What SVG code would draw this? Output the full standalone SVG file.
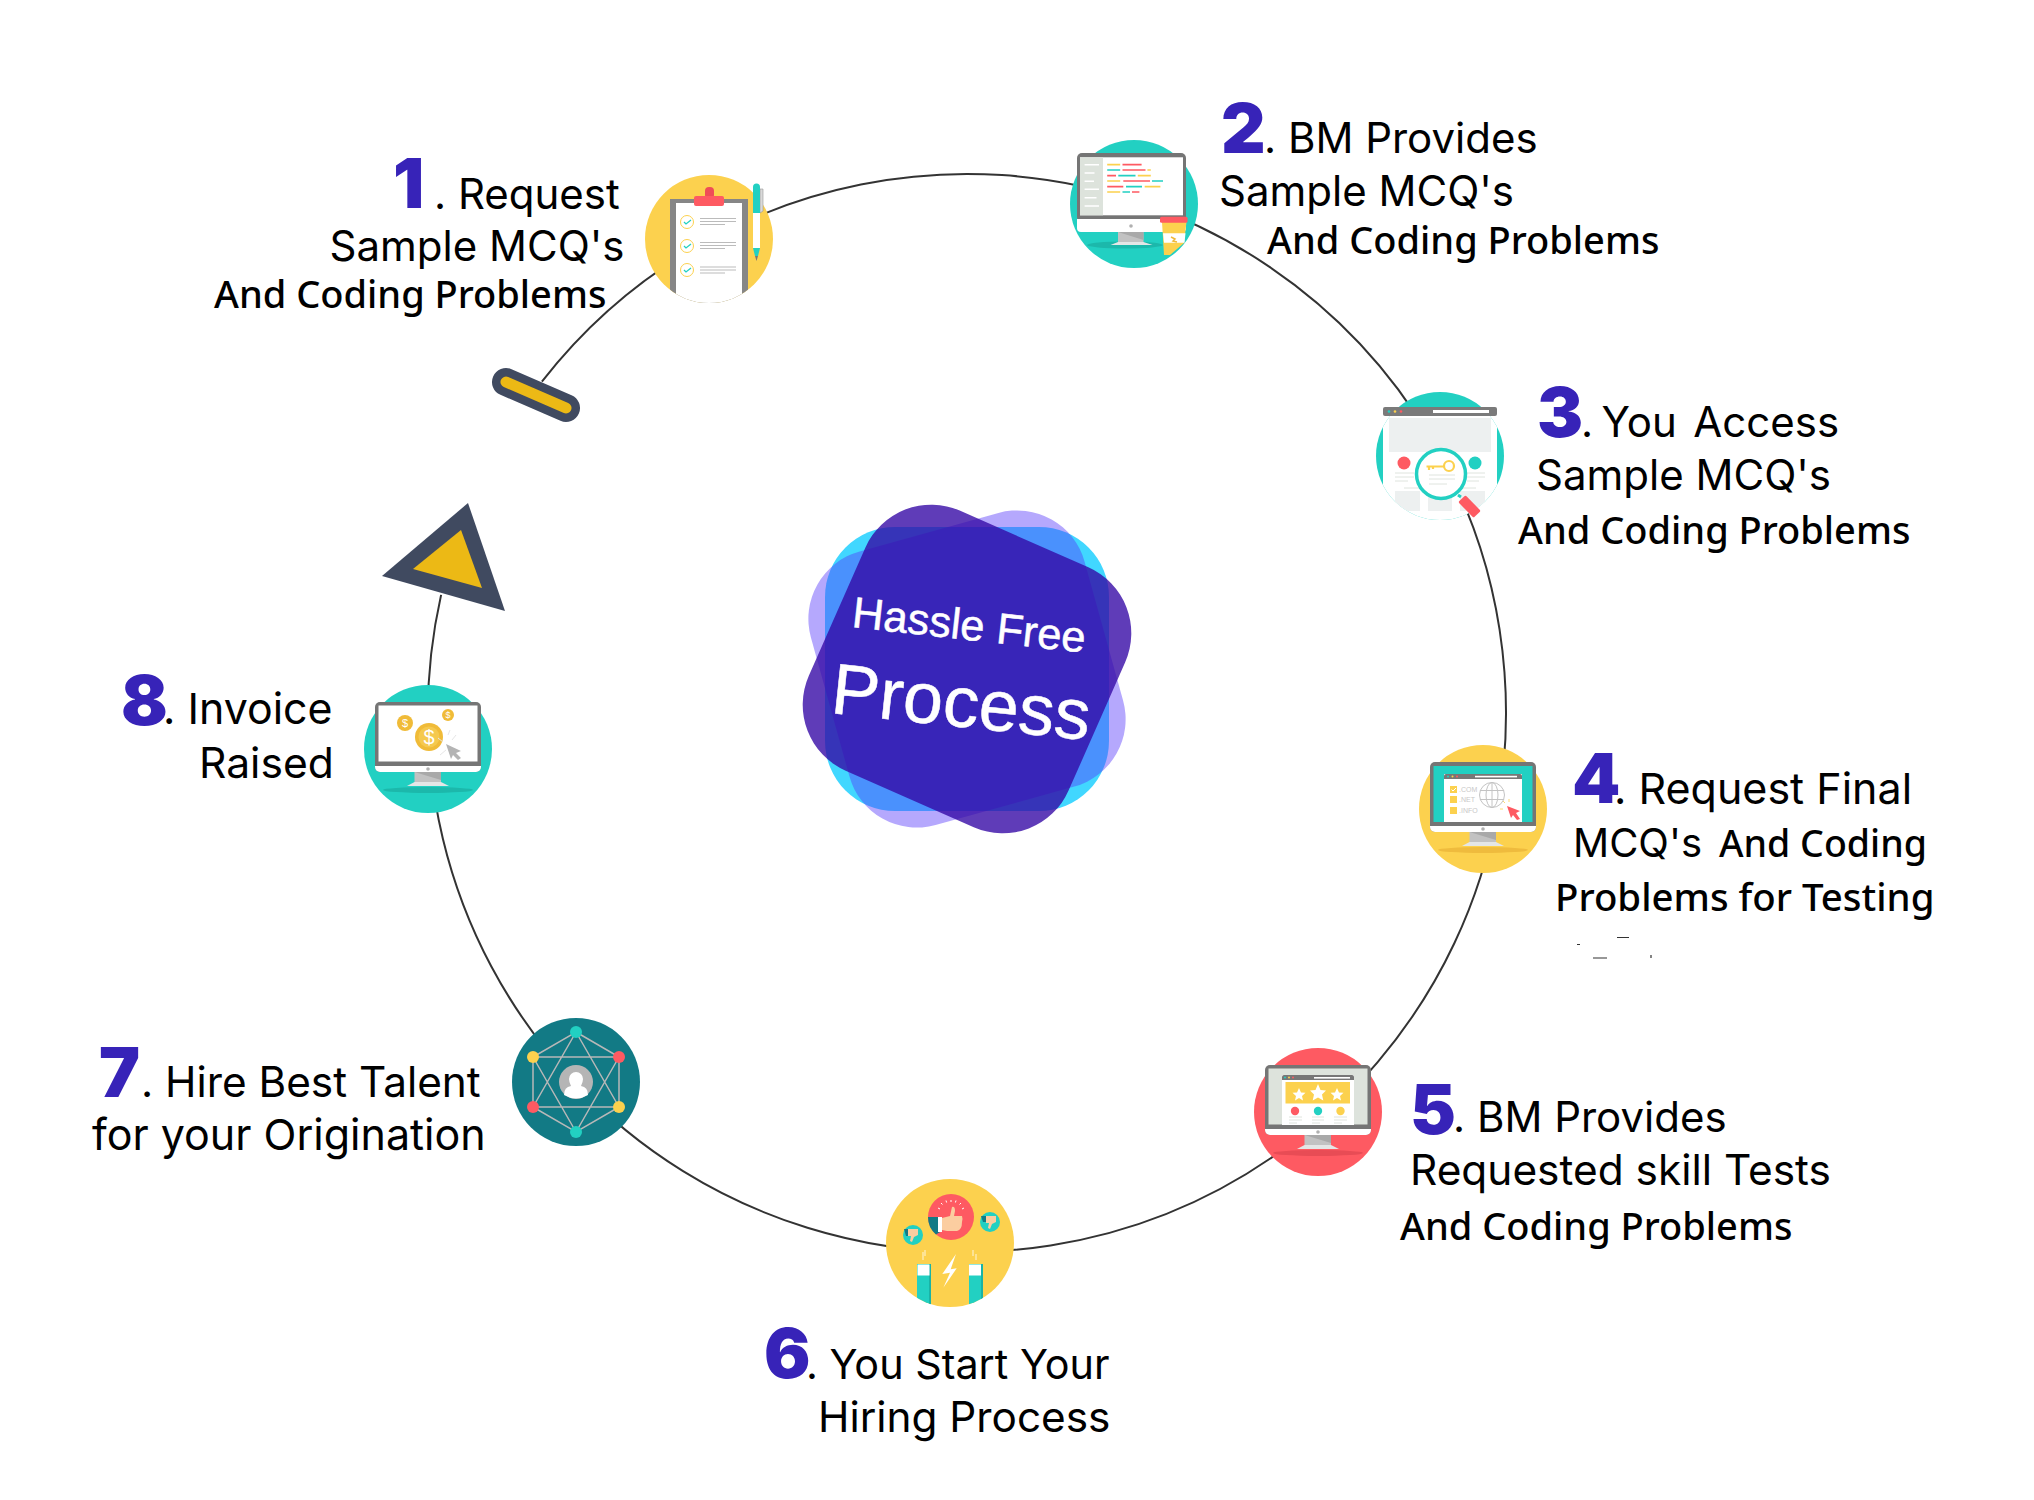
<svg xmlns="http://www.w3.org/2000/svg" xmlns:xlink="http://www.w3.org/1999/xlink" width="2034" height="1500" viewBox="0 0 2034 1500">
<style>
.t{font-family:"Inter","Liberation Sans",sans-serif;font-size:42px;fill:#000}
.n{font-family:"Noto Sans","Liberation Sans",sans-serif;font-size:38px;font-weight:500;fill:#000}
.d{font-family:"Inter","Liberation Sans",sans-serif;font-size:69px;font-weight:900;fill:#3723b8}
.tiny{font-family:"Liberation Sans",sans-serif;font-size:7px;fill:#c8c8c8}
.ctr{font-family:"Liberation Sans",Arial,sans-serif;fill:#fff;stroke:#fff;stroke-width:.5}
.y{fill:#fcd14e}.g{fill:#22d0c2}.r{fill:#fe5a62}.w{fill:#fff}.f{fill:#757575}
.dl{stroke:#bbb;stroke-width:1.2;fill:none}
.cl{stroke:#dfe4de;stroke-width:1;fill:none}
.net{stroke:#b8b8b8;stroke-width:1.5;fill:none}
</style>
<defs>
<g id="monitor">
<rect x="-53" y="-47" width="106" height="70" rx="5" class="f"/>
<path d="M-53 17H53V18a5 5 0 0 1-5 5H-48a5 5 0 0 1-5-5Z" class="w"/>
<path d="M-13.500 23H13V33H-13.500Z" fill="#c2c2c2"/>
<path d="M-13.500 23L13 31V23Z" fill="#a9a9a9"/>
<path d="M-13.500 33H13L21 37H-21Z" fill="#e4e6e6"/>
<circle cx="0" cy="20" r="1.800" fill="#b0b0b0"/>
</g>
<clipPath id="c1"><circle cx="709" cy="239" r="64"/></clipPath>
<clipPath id="c3"><circle cx="1440" cy="456" r="64"/></clipPath>
<clipPath id="c6"><circle cx="950" cy="1243" r="64"/></clipPath>
</defs>
<rect width="2034" height="1500" fill="#fff"/>

<g id="connectors">
<path d="M541.900 381.600A539 539 0 1 1 441.100 594.900" fill="none" stroke="#333" stroke-width="2"/>
</g>

<g id="markers">
<path d="M506 382L566 408" stroke="#404a60" stroke-width="28" stroke-linecap="round"/>
<path d="M506 382L566 408" stroke="#ecb915" stroke-width="11" stroke-linecap="round"/>
<polygon points="468,503 382,576 505,611" fill="#404a60"/>
<polygon points="461,530 413,569 482,588" fill="#ecb915"/>
</g>

<g id="center">
<rect x="825" y="527" width="284" height="284" rx="70" fill="#41d7ff"/>
<rect x="825" y="527" width="284" height="284" rx="70" fill="#5739fb" fill-opacity=".44" transform="rotate(-15.500 967 669)"/>
<rect x="825" y="527" width="284" height="284" rx="72" fill="#3407a5" fill-opacity=".79" transform="rotate(23.800 967 669)"/>
<text class="ctr" transform="translate(851 627) rotate(6.300)" font-size="43.500">Hassle Free</text>
<text class="ctr" transform="translate(829.500 713) rotate(6)" font-size="72">Process</text>
</g>

<g id="node1">
<circle cx="709" cy="239" r="64" class="y"/>
<g clip-path="url(#c1)">
<rect x="670" y="199" width="78" height="110" fill="#868686"/>
<rect x="676" y="203" width="66" height="110" class="w"/>
</g>
<rect x="705" y="187" width="9" height="12" rx="4" fill="#ef4d57"/>
<rect x="694" y="196" width="30" height="10" rx="2" class="r"/>
<g fill="#fff" stroke="#fcd14e" stroke-width="1">
<circle cx="687" cy="222" r="6.500"/><circle cx="687" cy="246" r="6.500"/><circle cx="687" cy="270" r="6.500"/>
</g>
<g fill="none" stroke="#22d0c2" stroke-width="1.300">
<path d="M684 222l2 2 5-4"/><path d="M684 246l2 2 5-4"/><path d="M684 270l2 2 5-4"/>
</g>
<path d="M700 218.500H736M700 221.500H736M700 224.500H725M700 242.500H736M700 245.500H736M700 248.500H725M700 267H736M700 270H736M700 273H725" class="dl"/>
<path d="M760 189H763V211L760 213Z" fill="#d9d9d9" stroke="#999" stroke-width=".6"/>
<path d="M753 187a3.500 3.500 0 0 1 7 0V213H753Z" class="g"/>
<rect x="753" y="213" width="7" height="35" class="w"/>
<path d="M753 248H760L758 256H755Z" class="g"/>
<path d="M755 256H758L756.500 261Z" fill="#777"/>
</g>
<text class="d" x="393" y="208">1</text>
<text class="t" x="434" y="208.500">. Request</text>
<text class="t" x="329.500" y="261">Sample MCQ's</text>
<text class="n" x="214" y="308">And Coding Problems</text>

<g id="node2">
<circle cx="1134" cy="204" r="64" class="g"/>
<ellipse cx="1125" cy="245" rx="38" ry="3.500" fill="#1cb8ab"/>
<rect x="1077" y="153" width="109" height="69" rx="5" class="f"/>
<path d="M1077 219H1186V228a4 4 0 0 1-4 4H1081a4 4 0 0 1-4-4Z" class="w"/>
<rect x="1080" y="157.300" width="103" height="58" class="w"/>
<rect x="1080" y="157.300" width="23" height="58" fill="#dde3dc"/>
<path d="M1084.600 164.700H1099M1084.600 173H1094.500M1084.600 181.300H1094M1084.600 189.300H1099M1084.600 197.700H1096.500M1084.600 206H1099" stroke="#fff" stroke-width="1.400" fill="none"/>
<g stroke-width="1.700" fill="none">
<path d="M1107.200 164.700H1120.200M1147.400 170H1150.800M1137.800 175.700H1150.800M1107.200 181H1120.200M1144.700 186.700H1160.400M1107.200 192H1120.200" stroke="#fcd14e"/>
<path d="M1122.500 164.700H1141.600M1122.500 170H1145.500M1107.200 175.700H1116M1123.300 181H1150M1107.200 186.700H1123.300M1132 192H1139.400" stroke="#fe5a62"/>
<path d="M1107.200 170H1120.200M1118.300 175.700H1135.500M1152 181H1163M1126 186.700H1142M1122.500 192H1130" stroke="#22d0c2"/>
</g>
<path d="M1118 232H1143.500V242H1118Z" fill="#c2c2c2"/>
<path d="M1118 232L1143.500 240V232Z" fill="#a9a9a9"/>
<path d="M1118 242H1143.500L1152.500 245H1110.500Z" fill="#e4e6e6"/>
<circle cx="1131" cy="226" r="1.800" fill="#b0b0b0"/>
<path d="M1162 222H1186.500L1184 243L1170 255H1164Z" class="y"/>
<path d="M1163 233.300H1185.500L1184.500 242.700H1164Z" class="w"/>
<rect x="1160" y="216.700" width="27.500" height="6" rx="1.500" class="r"/>
<path d="M1171 237l4 2-2 2 4 1" stroke="#efb93a" stroke-width="1.500" fill="none"/>
</g>
<text class="d" x="1221" y="153">2</text>
<text class="t" x="1264" y="153">. BM Provides</text>
<text class="t" x="1219" y="206">Sample MCQ's</text>
<text class="n" x="1267" y="254">And Coding Problems</text>

<g id="node3">
<circle cx="1440" cy="456" r="64" class="g"/>
<g clip-path="url(#c3)">
<rect x="1383" y="414" width="114" height="110" class="w"/>
<rect x="1389" y="418" width="102" height="34" fill="#edf0f0"/>
<circle cx="1404" cy="463" r="6.500" class="r"/>
<circle cx="1475" cy="463" r="6.500" class="g"/>
<path d="M1395 473H1414M1395 477H1414M1395 481H1408M1467 473H1485M1467 477H1485M1467 481H1479M1404 488H1476" class="cl"/>
<path d="M1395 491H1420V511H1395ZM1428 491H1452V511H1428ZM1460 491H1485V511H1460Z" fill="#edf0f0"/>
</g>
<rect x="1383" y="407" width="114" height="9" rx="2" fill="#7a7a7a"/>
<rect x="1433" y="410" width="56" height="3" class="w"/>
<circle cx="1389" cy="411.500" r="1.300" class="g"/><circle cx="1395" cy="411.500" r="1.300" class="y"/><circle cx="1401" cy="411.500" r="1.300" class="r"/>
<circle cx="1441" cy="474" r="24.500" fill="#fff" stroke="#22d0c2" stroke-width="3.500"/>
<path d="M1429 475H1455M1429 479H1455M1429 484H1447" stroke="#dfe4de" stroke-width="1" fill="none"/>
<circle cx="1449" cy="466" r="5" fill="none" stroke="#fcd14e" stroke-width="2.200"/>
<path d="M1426.500 466.500H1444M1429 466.500V470M1433 466.500V469" stroke="#fcd14e" stroke-width="2.200" fill="none"/>
<path d="M1458 495L1461 497" stroke="#22d0c2" stroke-width="3"/>
<rect x="1464.500" y="495.500" width="10" height="22" rx="1.500" class="r" transform="rotate(-44 1469.500 506.500)"/>
</g>
<text class="d" x="1537" y="437">3</text>
<text class="t" x="1581" y="437" style="white-space:pre;word-spacing:-3.500px">. You  Access</text>
<text class="t" x="1536" y="490">Sample MCQ's</text>
<text class="n" x="1518" y="544">And Coding Problems</text>

<g id="node4">
<circle cx="1483" cy="809" r="64" class="y"/>
<ellipse cx="1483" cy="850" rx="45" ry="3" fill="#efbb3d"/>
<use href="#monitor" xlink:href="#monitor" x="1483" y="809"/>
<rect x="1433.500" y="766" width="99" height="56" class="g"/>
<rect x="1444" y="774" width="78" height="48" class="w"/>
<path d="M1444 779v-3a2 2 0 0 1 2-2h74a2 2 0 0 1 2 2v3Z" fill="#777"/>
<rect x="1475" y="775.800" width="42" height="1.600" class="w"/>
<circle cx="1448" cy="776.500" r="1" class="g"/><circle cx="1452.500" cy="776.500" r="1" class="y"/><circle cx="1457" cy="776.500" r="1" class="r"/>
<rect x="1450" y="786" width="7" height="7" class="y"/><rect x="1450" y="796" width="7" height="7" class="y"/><rect x="1450" y="807" width="7" height="7" class="y"/>
<path d="M1451.500 789.500l1.500 1.500 3-3" stroke="#fff" stroke-width="1" fill="none"/>
<text class="tiny" x="1459" y="792">.COM</text><text class="tiny" x="1459" y="802">.NET</text><text class="tiny" x="1459" y="813">.INFO</text>
<g fill="none" stroke="#c4c4c4" stroke-width="1"><circle cx="1492" cy="795" r="12.500"/><ellipse cx="1492" cy="795" rx="6" ry="12.500"/><path d="M1492 782.500V807.500M1480 790.500H1504M1480 799.500H1504"/></g>
<path d="M1507 806L1520 811L1516 813L1520 819L1517 820L1513 815L1511 818Z" class="r"/>
<path d="M1505 803l-2-2M1503 809h-3M1509 802v-3" stroke="#fcd14e" stroke-width=".8"/>
</g>
<text class="d" x="1572" y="803">4</text>
<text class="t" x="1614" y="804" style="font-size:43px">. Request Final</text>
<text class="t" x="1573" y="857" style="font-size:40px">MCQ's</text>
<text class="n" x="1719" y="857" style="font-size:37.500px">And Coding</text>
<text class="n" x="1555" y="911" style="font-size:38.400px">Problems for Testing</text>
<path d="M1617 937.500H1629M1577 944.500H1580M1593 958H1607M1651 955V958" stroke="#333" stroke-width="1.200" fill="none"/>

<g id="node5">
<circle cx="1318" cy="1112" r="64" class="r"/>
<ellipse cx="1318" cy="1153" rx="45" ry="3" fill="#e84c55"/>
<use href="#monitor" xlink:href="#monitor" x="1318" y="1112"/>
<rect x="1268.500" y="1068.500" width="99" height="56" fill="#dde3dc"/>
<rect x="1282" y="1075" width="72" height="50" class="w"/>
<path d="M1282 1080v-3a2 2 0 0 1 2-2h68a2 2 0 0 1 2 2v3Z" fill="#777"/>
<rect x="1314" y="1077" width="36" height="1.600" class="w"/>
<circle cx="1285" cy="1077.500" r="1" class="g"/><circle cx="1289" cy="1077.500" r="1" class="y"/><circle cx="1293" cy="1077.500" r="1" class="r"/>
<rect x="1285.500" y="1082" width="64.500" height="21.500" class="y"/>
<g class="w">
<polygon points="1299,1088 1301,1092.500 1305.500,1092.800 1302,1096 1303,1100.500 1299,1098 1295,1100.500 1296,1096 1292.500,1092.800 1297,1092.500"/>
<polygon points="1318,1084 1320.500,1090 1326,1090.400 1322,1094.500 1323.300,1100.500 1318,1097.500 1312.700,1100.500 1314,1094.500 1310,1090.400 1315.500,1090"/>
<polygon points="1337,1088 1339,1092.500 1343.500,1092.800 1340,1096 1341,1100.500 1337,1098 1333,1100.500 1334,1096 1330.500,1092.800 1335,1092.500"/>
</g>
<circle cx="1295" cy="1111" r="4.200" class="r"/><circle cx="1318" cy="1111" r="4.200" class="g"/><circle cx="1340.500" cy="1111" r="4.200" class="y"/>
<path d="M1289 1117H1302M1289 1120H1302M1289 1123H1297M1312 1117H1324M1312 1120H1324M1312 1123H1320M1334 1117H1347M1334 1120H1347M1334 1123H1342" class="cl"/>
</g>
<text class="d" x="1410" y="1134">5</text>
<text class="t" x="1453" y="1132">. BM Provides</text>
<text class="t" x="1410" y="1185" style="font-size:42.400px">Requested skill Tests</text>
<text class="n" x="1400" y="1240">And Coding Problems</text>

<g id="node6">
<circle cx="950" cy="1243" r="64" class="y"/>
<circle cx="951" cy="1217" r="23" class="r"/>
<path d="M928 1217A23 23 0 0 0 936 1234.500L940 1232V1217Z" fill="#127a85"/>
<rect x="938" y="1217" width="4" height="15" class="w"/>
<path d="M942 1218L950 1216L952 1207Q955 1206 955 1211L954 1216H962Q963 1219 962 1222Q962 1230 957 1231H947L942 1230Z" fill="#fbcda0"/>
<path d="M938 1208l2 1M941 1203l1.500 1.500M946 1200.500l.6 2M951 1200v2M956 1200.500l-.6 2M961 1203l-1.500 1.500M964 1208l-2 1" stroke="#fff" stroke-width="1"/>
<circle cx="990" cy="1222" r="10" class="g"/>
<circle cx="913" cy="1235" r="10" class="g"/>
<path d="M981 1216H986V1222H983ZM904 1229H908V1236H906Z" fill="#127a85"/>
<path d="M986 1216H996V1222L992 1224L990 1229L988 1228L989 1223H986ZM908 1229H918V1235L914 1237L912 1242L910 1241L911 1236H908Z" fill="#fbcda0"/>
<g clip-path="url(#c6)">
<rect x="917" y="1264" width="14" height="50" class="g"/><rect x="969" y="1264" width="14" height="50" class="g"/>
<rect x="929" y="1264" width="2" height="50" fill="#1ab3a6"/><rect x="981" y="1264" width="2" height="50" fill="#1ab3a6"/>
</g>
<rect x="917.500" y="1264.500" width="12" height="11" class="w"/><rect x="969" y="1264.500" width="12" height="11" class="w"/>
<path d="M923 1260V1252M925 1256V1250M973 1256V1250M976 1260V1254" stroke="#fff" stroke-width=".8"/>
<polygon points="956,1254 942.300,1274 950,1272.700 943.300,1287.700 956.700,1268.300 950.700,1269.300" class="w"/>
</g>
<text class="d" x="764" y="1378">6</text>
<text class="t" x="806" y="1379" style="font-size:41.300px">. You Start Your</text>
<text class="t" x="818" y="1432" style="font-size:42.300px">Hiring Process</text>

<g id="node7">
<circle cx="576" cy="1082" r="64" fill="#127a85"/>
<path d="M576 1032L619 1057V1107L576 1132L533 1107V1057ZM533 1057H619M533 1107H619M576 1032L619 1107M576 1032L533 1107M576 1132L619 1057M576 1132L533 1057" class="net"/>
<circle cx="576" cy="1082" r="17" fill="#b5b5b5"/>
<path d="M564 1095Q564 1087 571 1086Q569 1082 569 1079A7 7 0 0 1 583 1079Q583 1082 581 1086Q588 1087 588 1095Q576 1102 564 1095Z" class="w"/>
<circle cx="576" cy="1032" r="6" class="g"/><circle cx="576" cy="1132" r="6" class="g"/>
<circle cx="533" cy="1057" r="6" class="y"/><circle cx="619" cy="1107" r="6" class="y"/>
<circle cx="619" cy="1057" r="6" class="r"/><circle cx="533" cy="1107" r="6" class="r"/>
</g>
<text class="d" x="99" y="1097">7</text>
<text class="t" x="141" y="1097" style="font-size:42.300px">. Hire Best Talent</text>
<text class="t" x="92" y="1150" style="font-size:43px">for your Origination</text>

<g id="node8">
<circle cx="428" cy="749" r="64" class="g"/>
<ellipse cx="428" cy="790" rx="45" ry="3" fill="#1cb8ab"/>
<use href="#monitor" xlink:href="#monitor" x="428" y="749"/>
<rect x="378.500" y="705.500" width="99" height="56" class="w"/>
<circle cx="405" cy="723" r="8" fill="#f0bb38"/><circle cx="448" cy="715" r="6" fill="#f0bb38"/><circle cx="429" cy="737" r="14" fill="#f0bb38"/><circle cx="429" cy="737" r="10.500" fill="#f5c94e"/>
<text x="405" y="727" font-family="Liberation Sans, sans-serif" font-size="11" fill="#fff" text-anchor="middle">$</text>
<text x="448" y="718" font-family="Liberation Sans, sans-serif" font-size="9" fill="#fff" text-anchor="middle">$</text>
<text x="429" y="744" font-family="Liberation Sans, sans-serif" font-size="20" fill="#fff" text-anchor="middle">$</text>
<path d="M446 744L461 751L456 753L461 758L458 760L453 755L451 759Z" fill="#b4b4b4"/>
<path d="M438 738l5 4M448 735l2-5M456 735l-4 5M440 755l6-5" stroke="#e6e6e6" stroke-width="1"/>
</g>
<text class="d" x="121" y="725">8</text>
<text class="t" x="163" y="724" style="font-size:42.900px">. Invoice</text>
<text class="t" x="199" y="777.500" style="font-size:42.600px">Raised</text>
</svg>
